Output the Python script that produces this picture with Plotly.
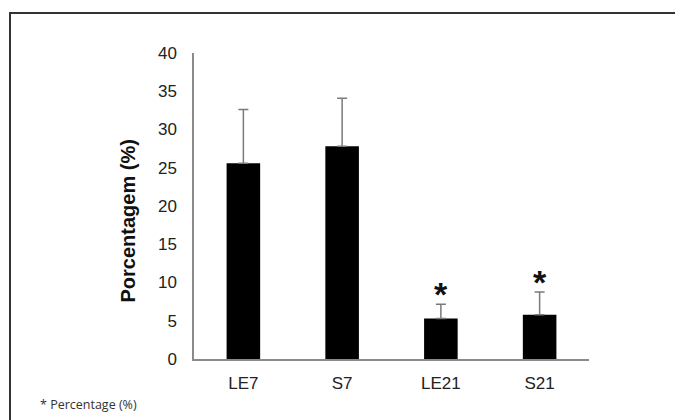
import plotly.graph_objects as go

categories = ["LE7", "S7", "LE21", "S21"]
means = [25.6, 27.8, 5.3, 5.8]
sd = [7.0, 6.3, 1.85, 2.95]
significant = [False, False, True, True]
y_ticks = [0, 5, 10, 15, 20, 25, 30, 35, 40]

# page body has an 8px margin; figure is placed at (8, 8) in the window
OFF = 8
W, H = 683 - OFF, 420 - OFF
ML, MR, MT, MB = 194 - OFF, 94, 53 - OFF, 61
pw, ph = W - ML - MR, H - MT - MB

def px_x(p):
    return (p - OFF - ML) / pw

def px_y(p):
    return (H - MB - (p - OFF)) / ph

FONT = "Arial, Liberation Sans, sans-serif"

fig = go.Figure()
fig.add_trace(go.Bar(
    x=categories, y=means,
    marker=dict(color="#000000", line=dict(width=0)),
    width=0.34,
    error_y=dict(type="data", array=sd, arrayminus=[0] * len(sd),
                 color="#7a7a7a", thickness=1.5, width=5),
))

for c, m, s, sig in zip(categories, means, sd, significant):
    if sig:
        fig.add_annotation(x=c, y=m + s, xref="x", yref="y", text="<b>*</b>",
                           showarrow=False, yanchor="bottom", yshift=-11,
                           font=dict(family=FONT, size=34, color="#111"))

fig.add_annotation(x=px_x(127), y=px_y(221.5), xref="paper", yref="paper",
                   text="<b>Porcentagem (%)</b>", textangle=-90, showarrow=False,
                   xanchor="center", yanchor="middle",
                   font=dict(family=FONT, size=20, color="#111"))

fig.add_annotation(x=px_x(38), y=px_y(404), xref="paper", yref="paper",
                   text="* Percentage (%)", showarrow=False,
                   xanchor="left", yanchor="middle",
                   font=dict(family="Open Sans, sans-serif", size=12.5, color="#333"))

fig.add_shape(type="path", xref="paper", yref="paper",
              path=f"M {px_x(10)},{px_y(440)} L {px_x(10)},{px_y(13)} L {px_x(700)},{px_y(13)}",
              line=dict(color="#333333", width=2))

fig.update_layout(
    width=W, height=H,
    margin=dict(l=ML, r=MR, t=MT, b=MB, autoexpand=False),
    plot_bgcolor="white", paper_bgcolor="white",
    showlegend=False,
    font=dict(family=FONT, color="#222"),
    xaxis=dict(showline=True, linecolor="#8a8a8a", linewidth=1.5,
               showgrid=False, ticks="", tickfont=dict(size=17, color="#222"),
               ticklabelstandoff=8, zeroline=False),
    yaxis=dict(range=[0, 40], tickvals=y_ticks, showline=True, linecolor="#8a8a8a",
               linewidth=1.5, showgrid=False, ticks="", zeroline=False,
               tickfont=dict(size=17, color="#222"), ticklabelstandoff=12),
)

fig.write_html("out.html")
